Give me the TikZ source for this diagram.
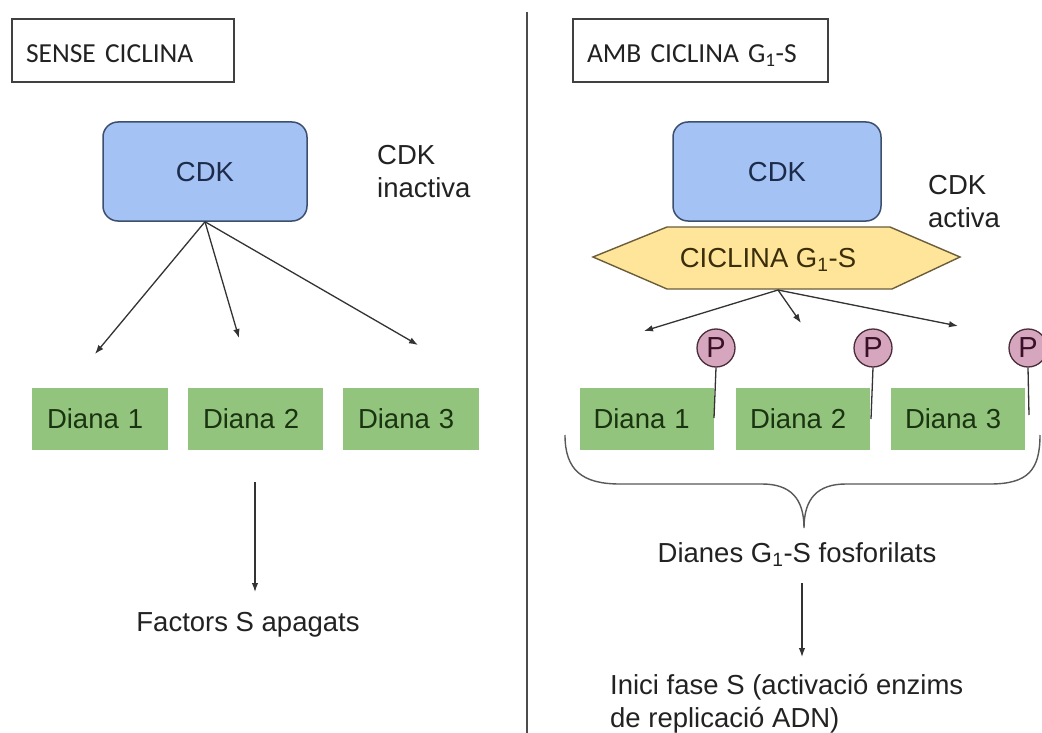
\documentclass[tikz,border=0pt]{standalone}
\usepackage{fontspec}
\setmainfont{Liberation Sans}
\newfontfamily\titlefont{Carlito}
\usetikzlibrary{arrows.meta}
\definecolor{cdkfill}{HTML}{A4C2F4}
\definecolor{cdkdraw}{HTML}{3C4F6E}
\definecolor{cdktext}{HTML}{1C2B4A}
\definecolor{dianafill}{HTML}{93C47D}
\definecolor{dianatext}{HTML}{1A3310}
\definecolor{cycfill}{HTML}{FFE599}
\definecolor{cycdraw}{HTML}{6B5D3A}
\definecolor{cyctext}{HTML}{3A2E0A}
\definecolor{pfill}{HTML}{D5A6BD}
\definecolor{pdraw}{HTML}{4A2C3A}
\definecolor{ptext}{HTML}{3A0F28}
\definecolor{txt}{HTML}{222222}
\definecolor{linecol}{HTML}{333333}
\tikzset{
  mainfont/.style={font=\fontsize{27.5}{33}\selectfont},
  titlebox/.style={draw=black!75, line width=1.3pt, minimum height=63pt, inner xsep=14pt,
    align=left, text height=25pt, text depth=0pt, font=\titlefont\fontsize{27.5}{33}\selectfont, text=txt},
  cdkbox/.style={draw=cdkdraw, line width=1.5pt, fill=cdkfill, rounded corners=15pt,
    minimum height=99pt, mainfont, text=cdktext, text height=19.7pt, text depth=0pt},
  dianabox/.style={fill=dianafill, minimum height=62pt, inner xsep=15pt, align=left,
    mainfont, text=dianatext, text height=19.7pt, text depth=0pt},
  pcirc/.style={circle, draw=pdraw, line width=1.3pt, fill=pfill, minimum size=38pt, inner sep=0pt,
    font=\fontsize{29}{33}\selectfont, text=ptext},
  label/.style={mainfont, text=txt, inner sep=0pt},
  arr/.style={draw=linecol, line width=1.3pt, -{Latex[length=9pt,width=6.5pt]}},
  stem/.style={draw=linecol, line width=1.3pt},
  bracel/.style={draw=black!65, line width=1.4pt}
}
\begin{document}
\begin{tikzpicture}[x=1pt,y=-1pt]
\useasboundingbox[fill=white] (0,0) rectangle (1042,733);

% divider
\coordinate (divT) at (527,12);
\coordinate (divB) at (527,733);
\draw[draw=black!70, line width=2.5pt] (divT) -- (divB);

% ---------- left ----------
\node[titlebox, text width=194pt] (t1) at (123,50.5) {SENSE CICLINA};
\node[cdkbox, minimum width=204pt] (cdkL) at (205,171.5) {CDK};
\node[label, anchor=west, align=left] (inact) at (377,172) {CDK\\inactiva};

\coordinate (eL1) at (95,354);
\coordinate (eL2) at (239,338);
\coordinate (eL3) at (418,345);
\draw[arr] (cdkL.south) -- (eL1);
\draw[arr] (cdkL.south) -- (eL2);
\draw[arr] (cdkL.south) -- (eL3);

\node[dianabox, text width=106pt] (dL1) at (100,419) {Diana 1};
\node[dianabox, text width=105pt] (dL2) at (255.5,419) {Diana 2};
\node[dianabox, text width=106pt] (dL3) at (411,419) {Diana 3};

\coordinate (aL1) at (255,482);
\coordinate (aL2) at (255,592);
\draw[arr] (aL1) -- (aL2);
\node[label, anchor=base] (fac) at (248,631) {Factors S apagats};

% ---------- right ----------
\node[titlebox, text width=227pt] (t2) at (700.5,50.5) {AMB CICLINA G\textsubscript{1}-S};

\node[cdkbox, minimum width=208pt] (cdkR) at (777,171.5) {CDK};
\node[label, anchor=west, align=left] (act) at (928,202) {CDK\\activa};

\coordinate (h1) at (593,257);
\coordinate (h2) at (667,227);
\coordinate (h3) at (890,227);
\coordinate (h4) at (960,257);
\coordinate (h5) at (892,289);
\coordinate (h6) at (667,289);
\draw[draw=cycdraw, line width=1.4pt, fill=cycfill] (h1) -- (h2) -- (h3) -- (h4) -- (h5) -- (h6) -- cycle;
\node[label, anchor=base, text=cyctext] (cyc) at (768,267) {CICLINA G\textsubscript{1}-S};
\coordinate (cycB) at (778,290);

\coordinate (eR1) at (644,331);
\coordinate (eR2) at (801,323);
\coordinate (eR3) at (958,326);
\draw[arr] (cycB) -- (eR1);
\draw[arr] (cycB) -- (eR2);
\draw[arr] (cycB) -- (eR3);

\node[dianabox, text width=106pt, inner xsep=14pt] (dR1) at (646.5,419) {Diana 1};
\node[dianabox, text width=106pt, inner xsep=14pt] (dR2) at (803,419) {Diana 2};
\node[dianabox, text width=106pt, inner xsep=14pt] (dR3) at (958,419) {Diana 3};

\node[pcirc] (p1) at (716,348) {P};
\node[pcirc] (p2) at (873,348) {P};
\node[pcirc] (p3) at (1028,348) {P};
\coordinate (s1) at (714,418);
\coordinate (s2) at (871,419);
\coordinate (s3) at (1029,415);
\draw[stem] (p1.south) -- (s1);
\draw[stem] (p2.south) -- (s2);
\draw[stem] (p3.south) -- (s3);

% brace
\coordinate (bL) at (565,435);
\coordinate (bM) at (804,528);
\coordinate (bR) at (1040,435);
\draw[bracel] (bL) .. controls (565,470) and (582,484) .. (620,484)
  -- (762,484) .. controls (790,484) and (804,498) .. (bM)
  .. controls (804,498) and (818,484) .. (846,484)
  -- (990,484) .. controls (1028,484) and (1040,470) .. (bR);

\node[label, anchor=base] (dian) at (797,562) {Dianes G\textsubscript{1}-S fosforilats};
\coordinate (aR1) at (802,583);
\coordinate (aR2) at (802,657);
\draw[arr] (aR1) -- (aR2);
\node[label, anchor=north west, align=left] (inici) at (610,674) {Inici fase S (activació enzims\\de replicació ADN)};
\end{tikzpicture}
\end{document}
